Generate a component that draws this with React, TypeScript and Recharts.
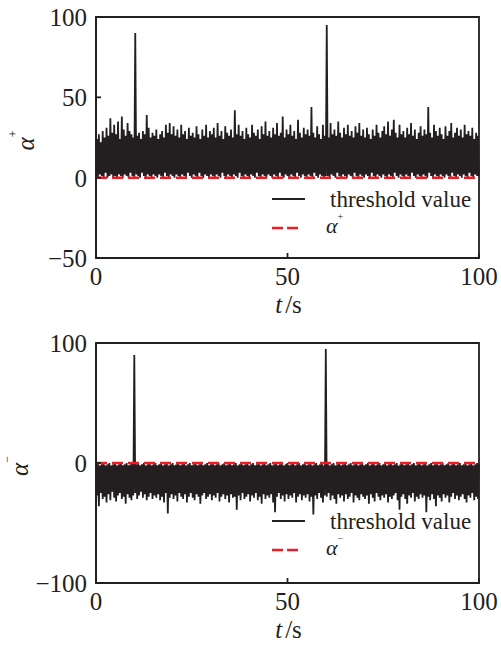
import { LineChart, Line, XAxis, YAxis, ReferenceLine, ReferenceArea, Legend } from 'recharts';

const INK = '#231f20';
const RED = '#ed1c24';
const FONT = 'Liberation Serif, Times New Roman, DejaVu Serif, serif';

// sampling step of the recorded signal (s)
const tStep = 0.25;

// α+ record, t = 0 .. 100 s
const alphaPlus = [
  1, 24, 0, 27, 2, 22, 1, 29, 0, 25, 3, 31, 0, 26, 1, 37, 2, 28, 0, 33,
  1, 27, 0, 35, 2, 24, 1, 38, 0, 30, 2, 26, 1, 34, 0, 29, 3, 27, 1, 25,
  0, 90, 2, 26, 1, 28, 0, 24, 3, 29, 1, 27, 0, 39, 2, 31, 1, 25, 0, 28,
  2, 26, 1, 30, 0, 24, 2, 27, 1, 29, 0, 25, 3, 33, 1, 28, 0, 34, 2, 27,
  1, 32, 0, 26, 2, 30, 1, 25, 0, 33, 2, 27, 1, 29, 0, 24, 3, 31, 1, 26,
  0, 28, 2, 25, 1, 32, 0, 27, 3, 24, 1, 30, 0, 26, 2, 33, 1, 25, 0, 29,
  2, 27, 1, 31, 0, 25, 2, 34, 1, 26, 0, 29, 3, 24, 1, 32, 0, 28, 2, 26,
  1, 30, 0, 25, 2, 42, 1, 27, 0, 33, 3, 26, 1, 29, 0, 24, 2, 31, 1, 27,
  0, 25, 2, 33, 1, 28, 0, 26, 3, 30, 1, 24, 0, 32, 2, 27, 1, 35, 0, 26,
  2, 29, 1, 25, 0, 31, 2, 27, 1, 34, 0, 26, 3, 28, 1, 38, 0, 25, 2, 30,
  1, 27, 0, 33, 2, 26, 1, 29, 0, 24, 3, 36, 1, 28, 0, 25, 2, 31, 1, 27,
  0, 30, 2, 26, 1, 44, 0, 28, 3, 25, 1, 32, 0, 27, 2, 24, 1, 33, 0, 26,
  1, 95, 1, 25, 0, 34, 2, 27, 1, 30, 0, 26, 3, 35, 1, 28, 0, 25, 2, 31,
  1, 27, 0, 33, 2, 26, 1, 29, 0, 25, 3, 32, 1, 28, 0, 34, 2, 26, 1, 30,
  0, 25, 2, 31, 1, 27, 0, 24, 3, 30, 1, 26, 0, 33, 2, 28, 1, 25, 0, 29,
  2, 32, 1, 27, 0, 35, 2, 26, 1, 30, 0, 36, 3, 28, 1, 25, 0, 33, 2, 27,
  1, 29, 0, 25, 2, 31, 1, 27, 0, 34, 3, 26, 1, 30, 0, 24, 2, 28, 1, 32,
  0, 26, 2, 30, 1, 27, 0, 44, 3, 28, 1, 25, 0, 33, 2, 29, 1, 26, 0, 31,
  2, 27, 1, 24, 0, 32, 2, 26, 1, 29, 0, 34, 3, 25, 1, 28, 0, 31, 2, 26,
  1, 30, 0, 25, 2, 33, 1, 27, 0, 29, 3, 26, 1, 31, 0, 24, 2, 28, 1, 26,
  1,
];

// α- record, t = 0 .. 100 s
const alphaMinus = [
  -1, -27, 0, -36, -2, -25, -1, -30, 0, -28, -2, -33, -1, -26, 0, -31, -2, -24, -1, -29,
  0, -32, -2, -27, -1, -25, 0, -30, -2, -28, -1, -34, 0, -26, -2, -29, -1, -31, 0, -27,
  90, -25, -1, -30, 0, -27, -2, -24, -1, -29, 0, -26, -2, -31, -1, -28, 0, -25, -2, -30,
  -1, -27, 0, -29, -2, -26, -1, -31, 0, -28, -2, -33, -1, -25, 0, -42, -2, -29, -1, -26,
  0, -30, -2, -27, -1, -32, 0, -25, -2, -28, -1, -30, 0, -26, -2, -33, -1, -28, 0, -25,
  -2, -29, -1, -31, 0, -26, -2, -28, -1, -34, 0, -27, -2, -25, -1, -30, 0, -28, -2, -26,
  -1, -31, 0, -27, -2, -29, -1, -25, 0, -32, -2, -28, -1, -26, 0, -30, -2, -27, -1, -33,
  0, -26, -2, -29, -1, -28, 0, -39, -2, -27, -1, -31, 0, -25, -2, -30, -1, -28, 0, -26,
  -2, -32, -1, -27, 0, -29, -2, -25, -1, -31, 0, -28, -2, -34, -1, -26, 0, -30, -2, -27,
  -1, -29, 0, -26, -2, -33, -1, -41, 0, -28, -2, -25, -1, -30, 0, -27, -2, -32, -1, -26,
  0, -30, -2, -27, -1, -29, 0, -25, -2, -33, -1, -28, 0, -26, -2, -31, -1, -27, 0, -29,
  -2, -26, -1, -32, 0, -28, -2, -43, -1, -27, 0, -30, -2, -25, -1, -29, 0, -33, -2, -27,
  95, -28, 0, -25, -2, -31, -1, -27, 0, -30, -2, -34, -1, -26, 0, -29, -2, -27, -1, -32,
  0, -26, -2, -30, -1, -28, 0, -25, -2, -33, -1, -27, 0, -29, -2, -31, -1, -26, 0, -28,
  -2, -30, -1, -27, 0, -34, -2, -26, -1, -29, 0, -32, -2, -25, -1, -28, 0, -31, -2, -27,
  -1, -29, 0, -26, -2, -33, -1, -28, 0, -30, -2, -27, -1, -25, 0, -31, -2, -39, -1, -28,
  0, -26, -2, -30, -1, -34, 0, -27, -2, -29, -1, -25, 0, -32, -2, -28, -1, -30, 0, -26,
  -2, -29, -1, -27, 0, -41, -2, -28, -1, -31, 0, -26, -2, -30, -1, -36, 0, -27, -2, -29,
  -1, -32, 0, -26, -2, -29, -1, -27, 0, -33, -2, -28, -1, -25, 0, -30, -2, -27, -1, -31,
  0, -28, -2, -26, -1, -30, 0, -33, -2, -27, -1, -29, 0, -25, -2, -31, -1, -28, 0, -30,
  -1,
];

const xTicks = [0, 50, 100];
const plusTicks = [-50, 0, 50, 100];
const minusTicks = [-100, 0, 100];
const legendLabel = 'threshold value';

const fmt = (v: number) => (v < 0 ? `\u2212${-v}` : `${v}`);

const serif = { fontFamily: FONT };

function YLabel({ viewBox, sign, cx }: any) {
  const cy = (viewBox?.y ?? 0) + (viewBox?.height ?? 0) / 2 + 3;
  return (
    <text x={cx} y={cy} transform={`rotate(-90 ${cx} ${cy})`} textAnchor="middle"
      style={serif} fontSize={25} fill={INK}>
      <tspan fontStyle="italic">α</tspan>
      <tspan dy={-17} fontSize={12}>{sign}</tspan>
    </text>
  );
}

function XLabel({ viewBox }: any) {
  const x = (viewBox?.x ?? 0) + (viewBox?.width ?? 0) / 2 + 1;
  const y = (viewBox?.y ?? 0) + 55;
  return (
    <text x={x} y={y} textAnchor="middle" style={serif} fontSize={25} fill={INK}>
      <tspan fontStyle="italic">t</tspan>
      <tspan dx={3}>/s</tspan>
    </text>
  );
}

function LegendBox({ sign }: { sign: string }) {
  return (
    <svg width={220} height={60} style={{ display: 'block' }}>
      <line x1={10} x2={43} y1={14} y2={14} stroke={INK} strokeWidth={2} />
      <text x={68} y={22} style={serif} fontSize={23} fill={INK}>{legendLabel}</text>
      <line x1={10} x2={36} y1={43} y2={43} stroke={RED} strokeWidth={2.5} strokeDasharray="11 4" />
      <text x={64} y={48} style={serif} fontSize={22} fill={INK}>
        <tspan fontStyle="italic">α</tspan>
        <tspan dy={-13} fontSize={10}>{sign}</tspan>
      </text>
    </svg>
  );
}

interface PanelProps {
  values: number[];
  domain: [number, number];
  ticks: number[];
  sign: string;
  height: number;
  top: number;
  axisH: number;
  labelX: number;
}

function Panel({ values, domain, ticks, sign, height, top, axisH, labelX }: PanelProps) {
  const data = values.map((v, i) => ({ t: i * tStep, v }));
  const tick = { fill: INK, fontSize: 25, style: serif };
  return (
    <LineChart width={501} height={height} data={data} margin={{ top, right: 22, bottom: 0, left: 0 }}
      style={serif}>
      <XAxis dataKey="t" type="number" domain={[0, 100]} ticks={xTicks} height={axisH}
        tickSize={-5} tickMargin={14} stroke={INK} strokeWidth={1.8} tick={tick}
        label={{ content: (p: any) => <XLabel {...p} /> }} />
      <YAxis domain={domain} ticks={ticks} width={96} tickSize={-5} tickMargin={14}
        stroke={INK} strokeWidth={1.8} tick={tick} tickFormatter={fmt} allowDataOverflow
        label={{ content: (p: any) => <YLabel {...p} sign={sign} cx={labelX} /> }} />
      <ReferenceArea x1={0} x2={100} y1={domain[0]} y2={domain[1]} fill="none"
        stroke={INK} strokeWidth={1.8} />
      <Line dataKey="v" name={legendLabel} type="linear" stroke={INK} strokeWidth={1.8}
        dot={false} isAnimationActive={false} />
      <ReferenceLine y={0} stroke={RED} strokeWidth={2.5} strokeDasharray="11 5" />
      <Legend layout="horizontal" verticalAlign="middle" align="center"
        wrapperStyle={{ position: 'absolute', left: 262, top: 185, width: 220, height: 60 }}
        content={() => <LegendBox sign={sign} />} />
    </LineChart>
  );
}

export default function App() {
  return (
    <div style={{ position: 'absolute', left: 0, top: 0, width: 501, height: 645, background: '#fff', ...serif }}>
      <Panel values={alphaPlus} domain={[-50, 100]} ticks={plusTicks} sign="+"
        height={322} top={17} axisH={64} labelX={34} />
      <Panel values={alphaMinus} domain={[-100, 100]} ticks={minusTicks} sign="−"
        height={323} top={21} axisH={62} labelX={28} />
    </div>
  );
}
